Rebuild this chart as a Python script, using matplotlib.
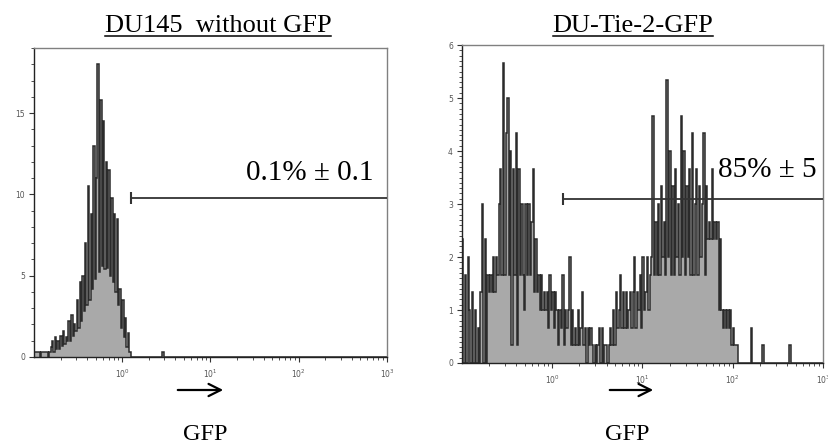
import matplotlib
matplotlib.use("Agg")
import matplotlib.pyplot as plt
import numpy as np
from matplotlib.ticker import MultipleLocator, LogLocator, NullFormatter
from matplotlib.lines import Line2D

# Histogramm-Daten: 256 Kanaele ueber 4 Dekaden (10^-1 .. 10^3), 64 Kanaele/Dekade
left_vals = [0.3, 0.3, 0.3, 0.3, 0.0, 0.3, 0.3, 0.3, 0.3, 0.3, 0.0, 0.3,
             0.6, 1.0, 0.3, 1.2, 0.5, 1.0,
             0.5, 1.3, 0.7, 1.6, 0.8, 1.2,
             1.0, 2.2, 1.0, 2.6, 1.3, 2.0,
             1.6, 3.5, 1.8, 4.6, 2.2, 5.0,
             2.8, 7.0, 3.2, 10.5, 3.5, 8.8,
             4.2, 13.0, 4.8, 11.0, 18.0, 5.2,
             15.8, 5.6, 14.5, 5.4, 12.0, 5.5,
             11.5, 5.0, 9.8, 4.6, 8.8, 4.0,
             8.5, 3.2, 4.2, 1.8, 3.5, 1.2,
             2.4, 0.6, 1.5, 0.3, 0.0]
left_spike_channel = 93
left_spike_value = 0.3

# rechte Probe: Ereignisse pro Kanal (Anzeige in Dritteln)
right_counts = [7, 0, 5, 0, 6, 3, 0, 4, 0, 3,
                0, 2, 0, 4, 9, 0, 7, 0, 5, 4,
                5, 4, 6, 4, 6, 5, 9, 11, 5, 17,
                5, 13, 15, 5, 12, 1, 11, 5, 13, 1,
                11, 5, 9, 5, 3, 9, 5, 9, 5, 8,
                11, 4, 7, 4, 5, 3, 5, 3, 4, 3,
                4, 2, 5, 3, 4, 2, 4, 3, 1, 3,
                2, 5, 1, 3, 2, 3, 6, 1, 3, 1,
                2, 1, 3, 1, 2, 4, 1, 2, 0, 2,
                1, 2, 1, 0, 1, 0, 1, 2, 0, 2,
                0, 1, 1, 0, 1, 2, 1, 3, 1, 4,
                2, 3, 5, 2, 4, 2, 4, 2, 3, 4,
                2, 4, 6, 2, 4, 3, 5, 2, 6, 3,
                4, 6, 3, 5, 6, 14, 5, 8, 5, 9,
                5, 10, 6, 8, 5, 16, 6, 12, 5, 10,
                5, 11, 6, 9, 5, 14, 6, 12, 5, 10,
                6, 11, 5, 13, 5, 9, 11, 5, 10, 6,
                9, 13, 5, 10, 7, 8, 7, 11, 7, 8,
                7, 8, 3, 7, 3, 2, 3, 2, 3, 2,
                3, 1, 2, 1, 1, 1, 0, 0, 0, 0,
                0, 0, 0, 0, 0, 2, 0, 0, 0, 0,
                0, 0, 0, 1, 0, 0, 0, 0, 0, 0,
                0, 0, 0, 0, 0, 0, 0, 0, 0, 0,
                0, 0, 1, 0, 0, 0]

titles = ["DU145  without GFP", "DU-Tie-2-GFP"]
gate_labels = ["0.1% \u00b1 0.1", "85% \u00b1 5"]
gate_start = [1.26, 1.3]
gate_level = [9.8, 3.1]
xtick_vals = [1, 10, 100, 1000]
xtick_labels = ["$10^{0}$", "$10^{1}$", "$10^{2}$", "$10^{3}$"]

n_ch = 256
edges = 10 ** (-1 + np.arange(n_ch + 1) / 64)

left = np.zeros(n_ch)
left[:len(left_vals)] = left_vals
left[left_spike_channel] = left_spike_value
right = np.zeros(n_ch)
right[:len(right_counts)] = np.array(right_counts) / 3.0

W, H = 829, 446
fig = plt.figure(figsize=(W / 100, H / 100), dpi=100)


def px_axes(x0, y0, x1, y1):
    return fig.add_axes([x0 / W, 1 - y1 / H, (x1 - x0) / W, (y1 - y0) / H])


def fx(x):
    return x / W


def fy(y):
    return 1 - y / H


ax1 = px_axes(34, 48, 387, 357)
ax2 = px_axes(462, 45, 823, 363)

serif = "Liberation Serif"
FILL = "#a9a9a9"
LINE = "#2b2b2b"

for i, (ax, vals, ymax) in enumerate([(ax1, left, 19.0), (ax2, right, 6.0)]):
    ax.stairs(vals, edges, fill=True, color=FILL, lw=0)
    ax.stairs(vals, edges, color=LINE, lw=1.1)
    ax.set_xscale("log")
    ax.set_xlim(0.1, 1000)
    ax.set_ylim(0, ymax)
    ax.set_xticks(xtick_vals)
    ax.set_xticklabels(xtick_labels)
    ax.xaxis.set_minor_locator(LogLocator(base=10, subs=np.arange(2, 10)))
    ax.xaxis.set_minor_formatter(NullFormatter())
    if i == 0:
        ax.yaxis.set_major_locator(MultipleLocator(5))
        ax.yaxis.set_minor_locator(MultipleLocator(1))
    else:
        ax.yaxis.set_major_locator(MultipleLocator(1))
        ax.yaxis.set_minor_locator(MultipleLocator(0.1))
    ax.tick_params(which="major", length=3.5, width=0.8, labelsize=5.5,
                   labelcolor="#555555", pad=3, color="#333333")
    ax.tick_params(which="minor", length=2, width=0.6, color="#333333")
    ax.tick_params(axis="x", which="major", pad=4)
    for s in ["top", "right"]:
        ax.spines[s].set_color("#808080")
        ax.spines[s].set_linewidth(1.0)
    for s in ["left", "bottom"]:
        ax.spines[s].set_color("#222222")
        ax.spines[s].set_linewidth(1.0)

    # Gate
    ax.plot([gate_start[i], 1000], [gate_level[i], gate_level[i]],
            color="#333333", lw=1.3, zorder=5, solid_capstyle="butt")
    ax.plot([gate_start[i]], [gate_level[i]], marker="|", ms=8, mew=1.5,
            color="#333333", zorder=5)

# Prozentangaben
fig.text(fx(310), fy(180), gate_labels[0], ha="center", va="baseline",
         fontsize=21, family=serif)
fig.text(fx(767), fy(177), gate_labels[1], ha="center", va="baseline",
         fontsize=21, family=serif)

# Titel (unterstrichen)
t1 = fig.text(fx(218), fy(32), titles[0], ha="center", va="baseline",
              fontsize=19, family=serif)
t2 = fig.text(fx(633), fy(32), titles[1], ha="center", va="baseline",
              fontsize=19, family=serif)
fig.canvas.draw()
renderer = fig.canvas.get_renderer()
for t in (t1, t2):
    bb = t.get_window_extent(renderer)
    fig.add_artist(Line2D([bb.x0 / W, bb.x1 / W], [fy(35.5), fy(35.5)],
                          transform=fig.transFigure, color="black", lw=1.1))

# Pfeile und Achsenbeschriftung
for x0, x1 in [(175, 226), (607, 656)]:
    fig.add_artist(matplotlib.patches.FancyArrowPatch(
        (fx(x0), fy(390)), (fx(x1), fy(390)), transform=fig.transFigure,
        arrowstyle="->", mutation_scale=22, lw=1.6, color="black"))
fig.text(fx(205), fy(440), "GFP", ha="center", va="baseline",
         fontsize=17.5, family=serif)
fig.text(fx(627), fy(440), "GFP", ha="center", va="baseline",
         fontsize=17.5, family=serif)

fig.savefig("out.png", dpi=100)
